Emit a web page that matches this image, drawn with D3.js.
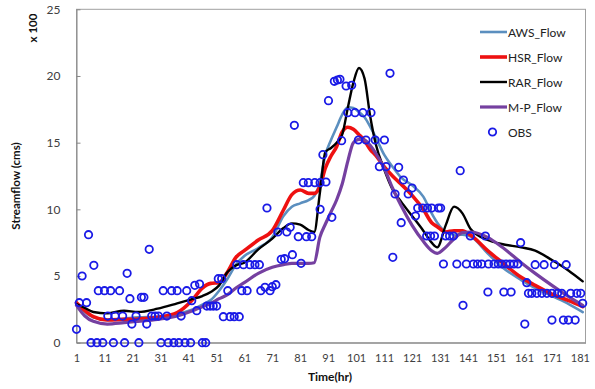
<!DOCTYPE html>
<html>
<head>
<meta charset="utf-8">
<script src="https://cdn.jsdelivr.net/npm/d3@7"></script>
<style>
  html, body { margin: 0; padding: 0; background: #fff; }
  svg { display: block; font-family: Lato, "Open Sans", sans-serif; }
</style>
</head>
<body>
<svg id="chart" width="595" height="389"></svg>
<script>
// Simulated hydrographs (flow in hundreds of cms) sampled at these hours
const lineHours = [1, 4, 7, 12, 18, 23, 30, 37, 42, 46, 49, 52, 55, 58, 61, 66, 71, 75, 78, 81, 84, 86, 88, 90, 92, 94, 96, 98, 100, 102, 104, 106, 108, 111, 114, 117, 121, 125, 128, 130, 133, 136, 139, 142, 148, 153, 160, 165, 171, 177, 182];
const awsFlow = [3.0, 2.3, 1.9, 1.7, 1.8, 1.9, 1.95, 2.15, 2.45, 2.85, 3.2, 3.9, 4.8, 5.85, 6.5, 7.1, 7.9, 9.5, 10.2, 10.45, 10.7, 11.0, 12.0, 14.1, 15.2, 16.15, 17.1, 17.65, 17.6, 17.3, 16.9, 16.2, 15.4, 14.1, 13.2, 12.4, 11.8, 10.95, 9.7, 9.0, 8.3, 8.1, 8.1, 7.95, 6.7, 5.7, 4.7, 4.1, 3.5, 2.9, 2.3];
const hsrFlow = [3.0, 2.4, 1.95, 1.7, 1.75, 1.78, 1.9, 2.25, 3.1, 4.1, 4.45, 4.5, 5.3, 6.4, 6.9, 7.7, 8.4, 9.95, 11.1, 11.45, 11.2, 11.2, 11.7, 13.1, 14.0, 14.7, 15.8, 16.15, 16.0, 15.6, 15.15, 14.5, 14.05, 13.2, 12.5, 11.9, 11.05, 10.0, 9.0, 8.7, 8.3, 8.4, 8.4, 8.05, 6.9, 6.05, 4.9, 4.3, 3.65, 3.15, 2.7];
const rarFlow = [2.9, 2.6, 2.3, 2.2, 2.4, 2.3, 2.55, 2.95, 3.25, 3.5, 3.8, 4.3, 5.3, 5.8, 6.0, 7.0, 7.8, 8.6, 8.95, 8.85, 8.45, 8.3, 11.2, 14.3, 14.6, 15.0, 15.6, 17.6, 19.5, 20.6, 19.8, 17.0, 14.9, 13.0, 11.5, 10.6, 9.5, 8.4, 7.5, 7.15, 8.8, 10.2, 9.7, 8.5, 7.7, 7.4, 7.15, 6.9, 6.2, 5.4, 4.6];
const mpFlow = [2.8, 2.0, 1.6, 1.4, 1.5, 1.6, 1.75, 2.0, 2.35, 2.7, 2.95, 3.3, 3.6, 4.1, 4.5, 5.2, 5.65, 5.85, 5.95, 5.95, 5.95, 6.0, 7.9, 8.9, 9.8, 10.7, 11.9, 13.6, 15.0, 15.25, 15.2, 14.8, 14.2, 13.1, 11.6, 10.3, 8.8, 7.6, 6.9, 6.7, 7.15, 7.8, 8.25, 8.3, 7.9, 7.2, 6.0, 5.2, 4.3, 3.45, 2.8];

// Observed flow (hundreds of cms)
const obsHours = [1, 2, 3, 4.6, 5.3, 6.2, 7.2, 8.3, 8.8, 10.4, 11, 12.2, 13.2, 14.2, 14.8, 16.4, 17.5, 18.2, 19.1, 20.1, 20.8, 22.3, 23.3, 24.2, 25.1, 26.1, 27, 27.9, 29.1, 30.3, 31.2, 32, 33.3, 33.8, 35, 35.8, 37, 37.6, 38.4, 39.8, 40.4, 41.8, 42.2, 43.3, 44, 45, 46, 47.2, 47.6, 48.8, 49.9, 51.1, 51.7, 52.9, 53.5, 55.1, 55.9, 57.4, 59.2, 58.3, 60.1, 60.7, 62, 63, 64.8, 66.4, 66.9, 68.4, 69.1, 70.2, 71, 72.3, 73, 74.2, 75.4, 76.2, 77.4, 78.2, 78.9, 80.3, 81.3, 82.1, 83.2, 83.9, 85.1, 86.2, 88.1, 88.1, 89.1, 90.2, 91.1, 92.3, 93.2, 94.3, 95.2, 95.8, 97.4, 98, 99.4, 100.6, 101.8, 103.4, 104.5, 106.3, 107.8, 109.3, 111.1, 111.7, 113.1, 114.1, 114.9, 116.2, 117.1, 117.9, 119.6, 121, 122.2, 123, 124.8, 126.2, 126.5, 127.6, 128, 129, 130.4, 131.2, 132.2, 133, 134.4, 135.8, 137, 138.2, 139.2, 140.4, 141.8, 142.9, 144.4, 145.9, 147.2, 148.1, 148.3, 150.3, 151.8, 153.1, 153.8, 154.6, 156, 156.4, 157.4, 158.8, 159.8, 161.3, 162, 162.6, 163.8, 165, 165.6, 167.4, 168.2, 169.2, 171, 171, 171.9, 173, 174.5, 175.1, 176.1, 176.9, 177.7, 179.3, 179.9, 181.3, 182];
const obsFlow = [1.0, 3.0, 5.0, 3.0, 8.1, 0, 5.8, 0, 3.9, 0, 3.9, 2.0, 3.9, 0, 2.0, 3.9, 2.0, 0, 5.2, 3.3, 1.4, 2.0, 0, 3.4, 3.4, 1.4, 7.0, 2.0, 2.0, 2.0, 0, 3.9, 2.0, 0, 3.9, 0, 3.9, 0, 2.0, 0, 3.9, 0, 3.15, 4.3, 2.4, 4.4, 0, 0, 2.75, 2.75, 2.75, 2.75, 4.8, 4.8, 1.95, 3.9, 1.95, 1.95, 1.95, 5.85, 3.9, 5.85, 3.9, 5.85, 5.85, 5.85, 3.9, 4.15, 10.1, 3.9, 4.2, 4.35, 8.3, 6.25, 6.3, 8.3, 8.65, 6.6, 16.3, 7.95, 5.95, 12.0, 7.95, 12.0, 7.95, 12.0, 12.0, 10.0, 14.1, 12.05, 18.15, 9.4, 19.6, 19.7, 19.75, 15.15, 19.25, 17.25, 19.3, 17.25, 15.2, 17.25, 15.2, 17.25, 15.2, 13.2, 15.2, 13.2, 20.2, 6.4, 11.15, 13.15, 9.0, 12.2, 11.15, 11.6, 9.5, 10.1, 10.1, 8.0, 10.1, 8.0, 10.1, 8.0, 10.1, 10.1, 5.9, 8.0, 8.0, 8.0, 5.9, 12.9, 2.8, 5.9, 8.0, 5.9, 5.9, 5.9, 8.0, 3.8, 5.9, 5.9, 5.9, 5.9, 3.8, 5.9, 5.9, 3.8, 5.9, 5.9, 7.5, 1.4, 4.5, 3.7, 3.7, 5.85, 3.7, 3.7, 5.85, 3.7, 1.7, 3.7, 5.85, 3.7, 3.7, 1.7, 5.85, 1.7, 3.7, 1.7, 3.7, 3.7, 2.95];

const hourTicks = d3.range(1, 182, 10);
const flowTicks = [0, 5, 10, 15, 20, 25];

const seriesNames = ["AWS_Flow", "HSR_Flow", "RAR_Flow", "M-P_Flow"];
const seriesValues = [awsFlow, hsrFlow, rarFlow, mpFlow];
const seriesColors = ["#5b8fbf", "#ee1111", "#000000", "#7540a0"];
const seriesWidths = [2.6, 3.6, 2.4, 3.2];

const svg = d3.select("#chart");
const plot = { left: 76.5, right: 585.5, top: 9.3, bottom: 342.7 };

const x = d3.scaleLinear().domain([1, 183]).range([plot.left, plot.right]);
const y = d3.scaleLinear().domain([0, 25]).range([plot.bottom, plot.top]);

// plot frame (top and right)
svg.append("rect")
  .attr("x", plot.left).attr("y", plot.top)
  .attr("width", plot.right - plot.left).attr("height", plot.bottom - plot.top)
  .attr("fill", "none").attr("stroke", "#a0a0a0").attr("stroke-width", 1);

// y axis
const yAxis = svg.append("g")
  .attr("transform", `translate(${plot.left},0)`)
  .call(d3.axisLeft(y).tickValues(flowTicks).tickSizeInner(-4).tickSizeOuter(0).tickPadding(16));
yAxis.select(".domain").attr("stroke", "#868686");
yAxis.selectAll(".tick line").attr("stroke", "#868686");
yAxis.selectAll(".tick text").attr("fill", "#404040").style("font-size", "12px").style("font-family", "Lato, sans-serif");

// x axis
const xAxis = svg.append("g")
  .attr("transform", `translate(0,${plot.bottom})`)
  .call(d3.axisBottom(x).tickValues(hourTicks).tickSize(0).tickPadding(12));
xAxis.select(".domain").attr("stroke", "#868686");
xAxis.selectAll(".tick text").attr("fill", "#404040").style("font-size", "11px").style("font-family", "Lato, sans-serif");

// axis titles
svg.append("text")
  .attr("transform", "translate(20,186) rotate(-90)")
  .attr("text-anchor", "middle")
  .style("font-size", "11.5px").style("font-weight", "bold").attr("fill", "#111")
  .text("Streamflow (cms)");
svg.append("text")
  .attr("transform", "translate(37,28) rotate(-90)")
  .attr("text-anchor", "middle")
  .style("font-size", "11.5px").style("font-weight", "bold").attr("fill", "#111")
  .text("x 100");
svg.append("text")
  .attr("x", 330).attr("y", 381)
  .attr("text-anchor", "middle")
  .style("font-size", "12px").style("font-weight", "bold").attr("fill", "#111")
  .text("Time(hr)");

// simulated flow lines
const line = d3.line()
  .x((d, i) => x(lineHours[i]))
  .y(d => y(d))
  .curve(d3.curveMonotoneX);

seriesValues.forEach((vals, k) => {
  svg.append("path")
    .datum(vals)
    .attr("d", line)
    .attr("fill", "none")
    .attr("stroke", seriesColors[k])
    .attr("stroke-width", seriesWidths[k])
    .attr("stroke-linejoin", "round")
    .attr("stroke-linecap", "round");
});

// observed points
svg.append("g")
  .selectAll("circle")
  .data(obsFlow)
  .join("circle")
  .attr("cx", (d, i) => x(obsHours[i]))
  .attr("cy", d => y(d))
  .attr("r", 3.7)
  .attr("fill", "none")
  .attr("stroke", "#1a1ae6")
  .attr("stroke-width", 1.8);

// legend
const legend = svg.append("g").attr("transform", "translate(480,32)");
seriesNames.forEach((name, k) => {
  const g = legend.append("g").attr("transform", `translate(0,${k * 25})`);
  g.append("line").attr("x1", 0).attr("x2", 27).attr("y1", 0).attr("y2", 0)
    .attr("stroke", seriesColors[k]).attr("stroke-width", seriesWidths[k]);
  g.append("text").attr("x", 28).attr("y", 4.5)
    .style("font-size", "12px").attr("fill", "#222").text(name);
});
const obsRow = legend.append("g").attr("transform", "translate(0,100)");
obsRow.append("circle").attr("cx", 12.5).attr("cy", 0).attr("r", 3.7)
  .attr("fill", "none").attr("stroke", "#1a1ae6").attr("stroke-width", 1.8);
obsRow.append("text").attr("x", 28).attr("y", 4.5)
  .style("font-size", "12px").attr("fill", "#222").text("OBS");
</script>
</body>
</html>
